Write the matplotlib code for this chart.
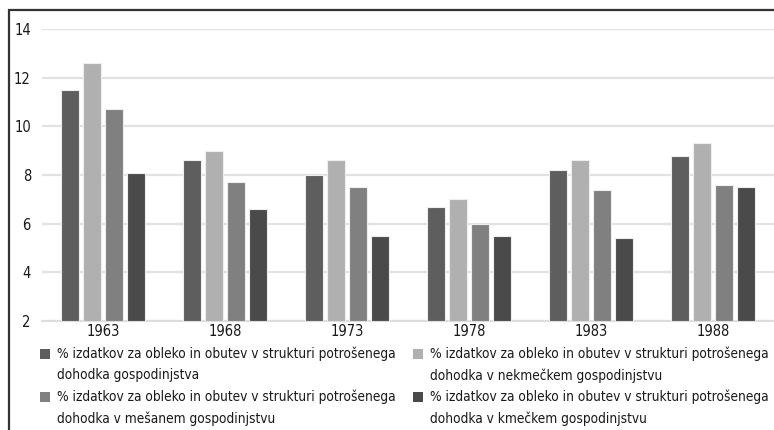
import matplotlib.pyplot as plt
import matplotlib.patches as mpatches
import numpy as np

# Data
years = ['1963', '1968', '1973', '1978', '1983', '1988']
s_all = [11.5, 8.6, 8.0, 6.7, 8.2, 8.8]
s_nonfarm = [12.6, 9.0, 8.6, 7.0, 8.6, 9.3]
s_mixed = [10.7, 7.7, 7.5, 6.0, 7.4, 7.6]
s_farm = [8.1, 6.6, 5.5, 5.5, 5.4, 7.5]

labels = [
    '% izdatkov za obleko in obutev v strukturi potrošenega\ndohodka gospodinjstva',
    '% izdatkov za obleko in obutev v strukturi potrošenega\ndohodka v nekmečkem gospodinjstvu',
    '% izdatkov za obleko in obutev v strukturi potrošenega\ndohodka v mešanem gospodinjstvu',
    '% izdatkov za obleko in obutev v strukturi potrošenega\ndohodka v kmečkem gospodinjstvu',
]
colors = ['#5e5e5e', '#b0b0b0', '#808080', '#4a4a4a']
series = [s_all, s_nonfarm, s_mixed, s_farm]

plt.rcParams['font.family'] = ['DejaVu Sans']
plt.rcParams['font.stretch'] = 'condensed'
text_color = '#1a1a1a'

W, H = 774, 430
fig = plt.figure(figsize=(W / 100, H / 100), dpi=100, facecolor='white')
ax = fig.add_axes([42 / W, 1 - 321 / H, 1 - 42 / W, 292 / H])

x = np.arange(len(years))
step = 0.18
width = 0.145
for i, (vals, c) in enumerate(zip(series, colors)):
    ax.bar(x + (i - 1.5) * step, np.array(vals) - 2, bottom=2, width=width,
           color=c, edgecolor='#eeeeee', linewidth=0.8, zorder=3)

ax.set_ylim(2, 14)
ax.set_yticks(range(2, 15, 2))
ax.set_xlim(-0.5, 5.5)
ax.set_xticks(x)
ax.set_xticklabels(years)
ax.tick_params(axis='both', length=0, labelsize=10.5, colors=text_color)
ax.tick_params(axis='x', pad=2)
ax.tick_params(axis='y', pad=8)
ax.yaxis.grid(True, color='#e2e2e2', linewidth=1.6, zorder=0)
ax.set_axisbelow(True)
for s in ['top', 'right', 'left']:
    ax.spines[s].set_visible(False)
ax.spines['bottom'].set_color('#dddddd')
ax.spines['bottom'].set_linewidth(1.5)

# legend drawn by hand: two columns, marker aligned with first text line
col_x = [40, 413]
row_y = [354, 397]
slots = [(0, 0), (1, 0), (0, 1), (1, 1)]  # (col, row) per series
for (cx, ry), c, lab in zip(slots, colors, labels):
    mx, my = col_x[cx], row_y[ry]
    fig.patches.append(mpatches.Rectangle((mx / W, 1 - (my + 5) / H),
                                          10 / W, 10 / H,
                                          transform=fig.transFigure,
                                          facecolor=c, edgecolor='none'))
    fig.text((mx + 17) / W, 1 - (my - 7.5) / H, lab, ha='left', va='top',
             fontsize=9.8, color=text_color, linespacing=1.62)

# outer frame
fig.patches.append(mpatches.Rectangle((9 / W, -0.1), 1.1, 1 - 10 / H + 0.1,
                                      transform=fig.transFigure, fill=False,
                                      edgecolor='#333333', linewidth=1.6))

plt.savefig('out.png', dpi=100, facecolor='white')
